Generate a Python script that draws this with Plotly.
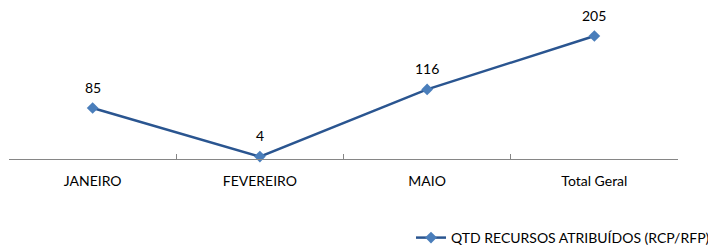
import plotly.graph_objects as go

categories = ["JANEIRO", "FEVEREIRO", "MAIO", "Total Geral"]
values = [85, 4, 116, 205]
series_name = "QTD RECURSOS ATRIBUÍDOS (RCP/RFP)"

FONT = "Lato, Open Sans, sans-serif"

fig = go.Figure()
fig.add_trace(go.Scatter(
    x=categories, y=values, name=series_name,
    mode="lines+markers",
    line=dict(color="#2A5590", width=2.5),
    marker=dict(symbol="diamond", size=9, color="#4A7EBB"),
    cliponaxis=False,
))

for c, v in zip(categories, values):
    fig.add_annotation(x=c, y=v, text=str(v), showarrow=False,
                       yanchor="middle", yshift=21,
                       font=dict(family=FONT, size=14, color="#000000"))

fig.update_layout(
    width=708, height=246,
    margin=dict(l=9, r=30, t=9, b=87, autoexpand=False),
    paper_bgcolor="white", plot_bgcolor="white",
    font=dict(family=FONT, size=14, color="#000000"),
    showlegend=True,
    legend=dict(xref="container", yref="container",
                x=411 / 708, xanchor="left", y=1 - 238 / 246, yanchor="middle",
                orientation="h", font=dict(size=14, color="#000000"),
                bgcolor="rgba(0,0,0,0)", itemwidth=30),
    xaxis=dict(
        type="category", range=[-0.5, 3.5], automargin=False,
        showline=True, linecolor="#868686", linewidth=1,
        ticks="inside", ticklen=5, tickcolor="#868686", tickson="boundaries",
        ticklabelstandoff=9,
        showgrid=False, zeroline=False,
        tickfont=dict(size=14, color="#000000"),
    ),
    yaxis=dict(range=[0, 250], visible=False, showgrid=False, zeroline=False,
               automargin=False),
)

fig.write_html("out.html", config={"displayModeBar": False},
               post_script="document.body.style.margin='0';")
